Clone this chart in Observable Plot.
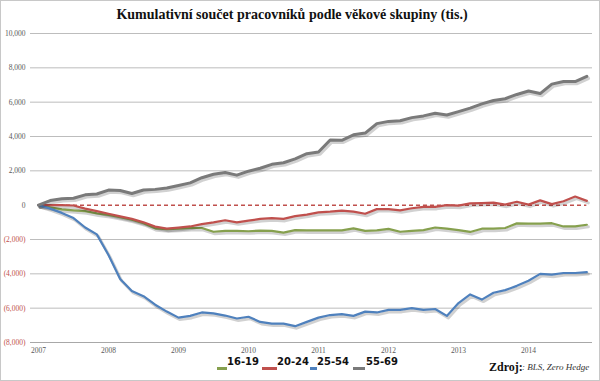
<!DOCTYPE html>
<html><head><meta charset="utf-8">
<script src="https://cdn.jsdelivr.net/npm/d3@7"></script>
<script src="https://cdn.jsdelivr.net/npm/@observablehq/plot@0.6"></script>
<style>
html,body{margin:0;padding:0;background:#fff;}
#wrap{position:relative;width:600px;height:381px;overflow:hidden;background:#fff;}
#frame{position:absolute;left:0;top:0;width:600px;height:381px;box-sizing:border-box;border:1px solid #c8c8c8;pointer-events:none;}
#title{position:absolute;left:0;top:7px;width:584px;text-align:center;font-family:"Liberation Serif",serif;font-weight:bold;font-size:14px;color:#111;white-space:nowrap;}
.lg{position:absolute;font-family:"DejaVu Sans",sans-serif;font-weight:bold;font-size:10px;color:#111;white-space:nowrap;}
.sw{position:absolute;height:3px;}
#src1{position:absolute;left:489px;top:360px;font-family:"Liberation Serif",serif;font-weight:bold;font-size:12px;color:#111;}
#src2{position:absolute;left:522px;top:362px;font-family:"Liberation Serif",serif;font-style:italic;font-size:9px;color:#333;}
#plot{position:absolute;left:0;top:0;}
</style>
</head><body>
<div id="wrap">
  <div id="plot"></div>
  <div id="title">Kumulativní součet pracovníků podle věkové skupiny (tis.)</div>
  <div id="legend"></div>
  <div id="src1">Zdroj:</div>
  <div id="src2">: BLS, Zero Hedge</div>
  <div id="frame"></div>
</div>
<script>
const dates = [
  "2007-01","2007-03","2007-05","2007-07","2007-09","2007-11",
  "2008-01","2008-03","2008-05","2008-07","2008-09","2008-11",
  "2009-01","2009-03","2009-05","2009-07","2009-09","2009-11",
  "2010-01","2010-03","2010-05","2010-07","2010-09","2010-11",
  "2011-01","2011-03","2011-05","2011-07","2011-09","2011-11",
  "2012-01","2012-03","2012-05","2012-07","2012-09","2012-11",
  "2013-01","2013-03","2013-05","2013-07","2013-09","2013-11",
  "2014-01","2014-03","2014-05","2014-07","2014-09","2014-11"
];
const seriesNames = ["16-19", "20-24", "25-54", "55-69"];
const s1619 = [
  0,-130,-250,-300,-350,-480,
  -570,-700,-850,-1050,-1350,-1400,
  -1370,-1330,-1330,-1550,-1500,-1500,
  -1520,-1480,-1500,-1600,-1450,-1470,
  -1470,-1470,-1470,-1350,-1500,-1470,
  -1380,-1550,-1500,-1450,-1300,-1370,
  -1450,-1560,-1370,-1370,-1330,-1060,
  -1080,-1080,-1050,-1240,-1240,-1140
];
const s2024 = [
  0,0,0,-20,-200,-350,
  -500,-650,-800,-1000,-1250,-1370,
  -1310,-1240,-1100,-1000,-880,-1000,
  -900,-800,-760,-800,-640,-550,
  -420,-380,-320,-380,-500,-230,
  -230,-300,-180,-100,-100,0,
  -30,100,120,150,30,200,
  30,280,60,230,500,250
];
const s2554 = [
  0,-200,-450,-750,-1300,-1700,
  -2900,-4300,-5000,-5300,-5800,-6200,
  -6550,-6450,-6250,-6300,-6430,-6600,
  -6500,-6800,-6900,-6900,-7050,-6800,
  -6550,-6400,-6350,-6450,-6200,-6250,
  -6100,-6100,-6000,-6100,-6050,-6450,
  -5700,-5200,-5500,-5100,-4950,-4700,
  -4400,-4000,-4050,-3950,-3950,-3900
];
const s5569 = [
  0,270,370,400,600,650,
  880,850,680,880,920,1000,
  1150,1300,1600,1800,1900,1750,
  1980,2150,2380,2470,2700,3000,
  3100,3800,3780,4100,4200,4750,
  4880,4920,5100,5200,5350,5250,
  5450,5650,5900,6100,6200,6450,
  6650,6500,7050,7200,7200,7500
];
const yTicks = [-8000,-6000,-4000,-2000,0,2000,4000,6000,8000,10000];
const xTicks = [2007,2008,2009,2010,2011,2012,2013,2014];

const colors = {"16-19":"#86a04e","20-24":"#c0504d","25-54":"#4f81bd","55-69":"#7a7a7a"};
const values = {"16-19":s1619,"20-24":s2024,"25-54":s2554,"55-69":s5569};
const t = dates.map(s => { const [y,m] = s.split("-").map(Number); return y + (m-1)/12; });
const rows = [];
for (const name of seriesNames) values[name].forEach((v,i) => rows.push({series:name, t:t[i], v}));

const x0 = 2007 - 8/70, x1 = 2007 + 554/70;
const fmt = d => d === 0 ? "0" : d < 0 ? "(" + d3.format(",")(-d) + ")" : d3.format(",")(d);

const drawOrder = ["16-19","20-24","25-54","55-69"];
const lineMarks = [];
for (const name of drawOrder) {
  const data = rows.filter(r => r.series === name);
  lineMarks.push(Plot.line(data, {x:"t", y:"v", stroke:"#000", strokeOpacity:0.18, strokeWidth: name==="55-69"?3.5:3, dx:1.5, dy:2}));
  lineMarks.push(Plot.line(data, {x:"t", y:"v", stroke:colors[name], strokeWidth: name==="55-69"?3:2.2}));
}

const chart = Plot.plot({
  width: 600, height: 381,
  marginTop: 33, marginBottom: 39, marginLeft: 30, marginRight: 8,
  x: {domain: [x0, x1], axis: null},
  y: {domain: [-8000, 10000], axis: null},
  style: {fontFamily: "Liberation Serif", background: "transparent"},
  marks: [
    Plot.ruleY(yTicks.filter(d => d !== 0), {stroke: d => d === -8000 ? "#a8a8a8" : "#bdbdbd", strokeWidth: 1}),
    Plot.text(yTicks, {x: x0, y: d => d, text: fmt, textAnchor: "end", dx: -5, fill: d => d < 0 ? "#c0504d" : "#595959", fontSize: 7.5}),
    Plot.text(xTicks, {x: d => d, frameAnchor: "bottom", dy: 10, text: d => String(d), fontSize: 7.5, fill: "#595959"}),
    Plot.ruleY([0], {x1: 2007, x2: t[t.length-1], stroke: "#c0504d", strokeWidth: 1.5, strokeDasharray: "4,3"}),
    ...lineMarks
  ]
});
document.getElementById("plot").appendChild(chart);

// legend
const legendPos = [
  {name:"16-19", sx:217, sw:10, tx:227},
  {name:"20-24", sx:262, sw:15, tx:277},
  {name:"25-54", sx:310, sw:7, tx:317},
  {name:"55-69", sx:353, sw:12, tx:366}
];
const lg = document.getElementById("legend");
for (const p of legendPos) {
  const s = document.createElement("div");
  s.className = "sw";
  s.style.left = p.sx + "px"; s.style.top = "367px"; s.style.width = p.sw + "px";
  s.style.background = colors[p.name];
  lg.appendChild(s);
  const tx = document.createElement("div");
  tx.className = "lg";
  tx.style.left = p.tx + "px"; tx.style.top = "356px";
  tx.textContent = p.name;
  lg.appendChild(tx);
}
</script>
</body></html>
